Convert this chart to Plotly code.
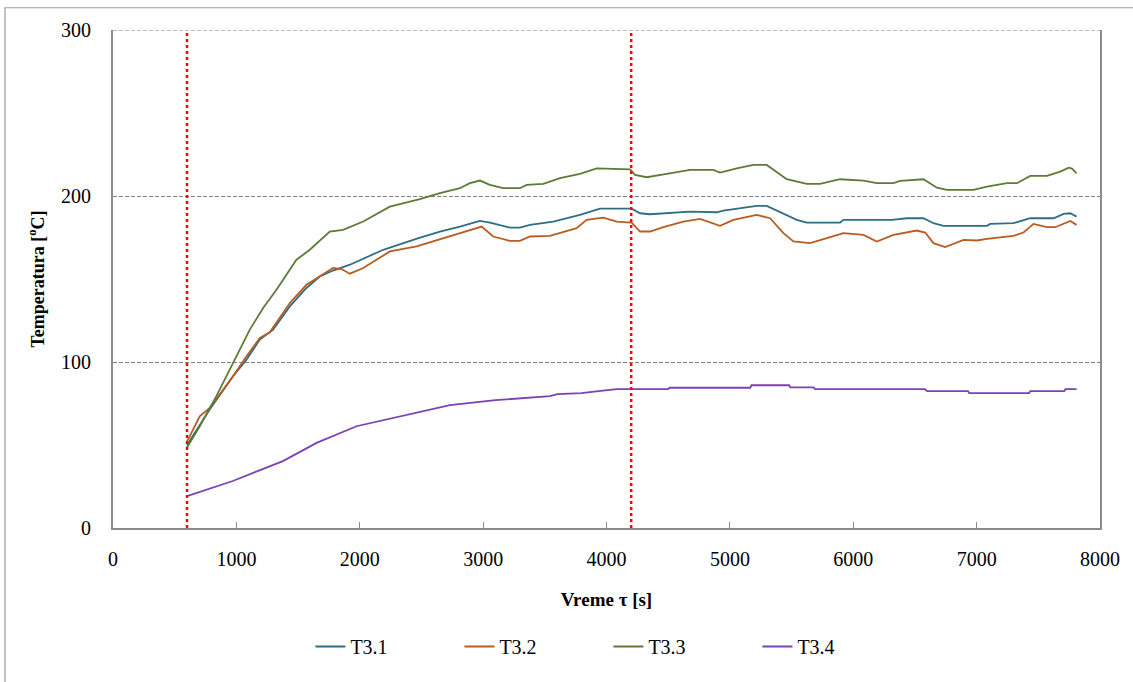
import plotly.graph_objects as go

# ---- data ----
t31_x = [600, 784, 973, 1082, 1190, 1298, 1433, 1568, 1676, 1784, 1920, 2190, 2470, 2650, 2812, 2974, 3055, 3217, 3298, 3380, 3569, 3785, 3947, 4204, 4272, 4353, 4677, 4894, 4947, 5109, 5218, 5299, 5434, 5542, 5623, 5894, 5920, 6313, 6434, 6569, 6650, 6732, 7084, 7110, 7299, 7434, 7624, 7705, 7759, 7810]
t31_y = [50, 71.4, 91.4, 101.4, 113.5, 119.5, 133.5, 144.6, 151.5, 155.1, 158.6, 167.6, 174.5, 178.6, 181.6, 185, 184, 181, 181, 182.6, 184.6, 188.6, 192.4, 192.4, 189.6, 189, 190.6, 190.2, 191.2, 192.7, 194, 194, 189.6, 185.6, 184, 184, 185.6, 185.6, 186.6, 186.6, 183.6, 182, 182, 183.2, 183.6, 186.6, 186.6, 189.2, 189.6, 187.6]

t32_x = [600, 703, 784, 973, 1082, 1190, 1271, 1433, 1568, 1784, 1852, 1920, 2028, 2244, 2461, 2650, 2812, 2988, 3082, 3217, 3298, 3380, 3542, 3677, 3758, 3839, 3974, 4083, 4204, 4272, 4353, 4461, 4623, 4758, 4920, 5029, 5218, 5326, 5434, 5515, 5650, 5786, 5920, 6083, 6191, 6326, 6515, 6583, 6650, 6745, 6894, 7002, 7084, 7299, 7380, 7461, 7570, 7637, 7759, 7810]
t32_y = [52, 67.3, 72.4, 91.4, 103.4, 114.5, 117.9, 135.5, 146.5, 156.6, 156, 153.2, 156.6, 166.6, 169.6, 174, 177.6, 181.6, 175.6, 173, 173, 175.6, 176, 178.6, 180.6, 185.6, 187, 184.6, 184, 178.6, 178.6, 181.2, 184.6, 186.2, 182, 185.6, 188.6, 186.6, 177.6, 172.6, 171.6, 174.6, 177.6, 176.6, 172.6, 176.6, 179.2, 178, 171.6, 169.2, 173.6, 173.2, 174.2, 176, 178, 183.2, 181.2, 181.2, 185, 182.6]

t33_x = [600, 703, 838, 973, 1109, 1217, 1325, 1487, 1595, 1757, 1865, 2028, 2244, 2487, 2650, 2812, 2893, 2974, 3055, 3163, 3298, 3353, 3488, 3623, 3785, 3920, 4191, 4231, 4326, 4488, 4677, 4866, 4920, 5056, 5191, 5299, 5461, 5623, 5731, 5894, 6083, 6191, 6326, 6380, 6569, 6678, 6759, 6975, 7084, 7246, 7327, 7434, 7570, 7678, 7746, 7773, 7810]
t33_y = [48.5, 61.3, 79.4, 99.5, 119.5, 132.5, 143.5, 161.6, 167.6, 178.6, 179.6, 184.6, 193.6, 198.1, 201.7, 204.7, 207.7, 209.3, 206.7, 204.7, 204.7, 206.7, 207.3, 210.7, 213.3, 216.7, 216.1, 212.7, 211.3, 213.3, 215.7, 215.7, 214.1, 216.7, 218.7, 218.7, 210.1, 207.3, 207.3, 210.1, 209.3, 207.7, 207.7, 209.1, 210.1, 205, 203.7, 203.7, 205.7, 207.7, 207.7, 212.1, 212.1, 214.7, 217.1, 216.5, 213.7]

t34_x = [600, 971, 1377, 1650, 1974, 2325, 2731, 3100, 3542, 3602, 3798, 3934, 4084, 4500, 4510, 5165, 5175, 5480, 5490, 5680, 5690, 6580, 6600, 6930, 6940, 7425, 7435, 7710, 7720, 7810]
t34_y = [19.2, 28.3, 40.3, 51.3, 61.3, 67.4, 74, 77, 79.5, 80.7, 81.3, 82.4, 83.6, 83.6, 84.5, 84.5, 86, 86, 84.7, 84.7, 83.6, 83.6, 82.4, 82.4, 81.3, 81.3, 82.4, 82.4, 83.6, 83.6]

series_names = ["T3.1", "T3.2", "T3.3", "T3.4"]
series_colors = ["#2F6E82", "#B85C22", "#5F7A38", "#7A42B4"]
marker_times = [600, 4200]

x_ticks = [0, 1000, 2000, 3000, 4000, 5000, 6000, 7000, 8000]
y_ticks = [0, 100, 200, 300]

FONT = "Liberation Serif, Times New Roman, serif"
GRID = "#808080"

fig = go.Figure()
for name, xs, ys, col in zip(series_names, [t31_x, t32_x, t33_x, t34_x],
                             [t31_y, t32_y, t33_y, t34_y], series_colors):
    fig.add_trace(go.Scatter(x=xs, y=ys, mode="lines", name=name,
                             line=dict(color=col, width=1.8)))

# dashed gridline along the top edge (300)
fig.add_shape(type="line", xref="paper", yref="y", x0=0, x1=1, y0=y_ticks[-1], y1=y_ticks[-1],
              line=dict(color=GRID, width=1, dash="4px,2px"), layer="below")

for t in marker_times:
    fig.add_shape(type="line", xref="x", yref="y", x0=t, x1=t, y0=0, y1=300,
                  line=dict(color="#FF0000", width=2.5, dash="dot"), layer="above")

# outer chart border
fig.add_shape(type="rect", xref="paper", yref="paper", x0=-0.1094, x1=1.2,
              y0=-0.5, y1=1.0447, line=dict(color="#9A9A9A", width=1.2), layer="below")

fig.update_layout(
    width=1133, height=682,
    margin=dict(l=113, r=33, t=30, b=154),
    paper_bgcolor="white", plot_bgcolor="white",
    font=dict(family=FONT, size=20, color="black"),
    showlegend=True,
    legend=dict(orientation="h", x=0.2, y=-0.238, xanchor="left", yanchor="middle",
                font=dict(family=FONT, size=20), entrywidth=104, entrywidthmode="pixels",
                bgcolor="rgba(0,0,0,0)"),
    xaxis=dict(range=[0, 8000], tickvals=x_ticks, ticks="inside", ticklen=6,
               tickcolor="#8C8C8C", showline=True, linecolor="#8C8C8C", linewidth=2,
               showgrid=False, zeroline=False, ticklabelstandoff=12,
               tickfont=dict(family=FONT, size=20),
               title=dict(text="<b>Vreme τ [s]</b>", font=dict(family=FONT, size=19), standoff=24)),
    yaxis=dict(range=[0, 300], tickvals=y_ticks, ticks="", showline=True, mirror=True,
               linecolor="#8C8C8C", linewidth=2, showgrid=True, gridcolor=GRID,
               griddash="4px,2px", gridwidth=1, zeroline=False, ticklabelstandoff=16,
               tickfont=dict(family=FONT, size=20),
               title=dict(text="<b>Temperatura [<sup>o</sup>C]</b>", font=dict(family=FONT, size=18), standoff=12)),
)

fig.write_html("out.html", post_script="document.body.style.margin='0';",
               config={"displayModeBar": False})
